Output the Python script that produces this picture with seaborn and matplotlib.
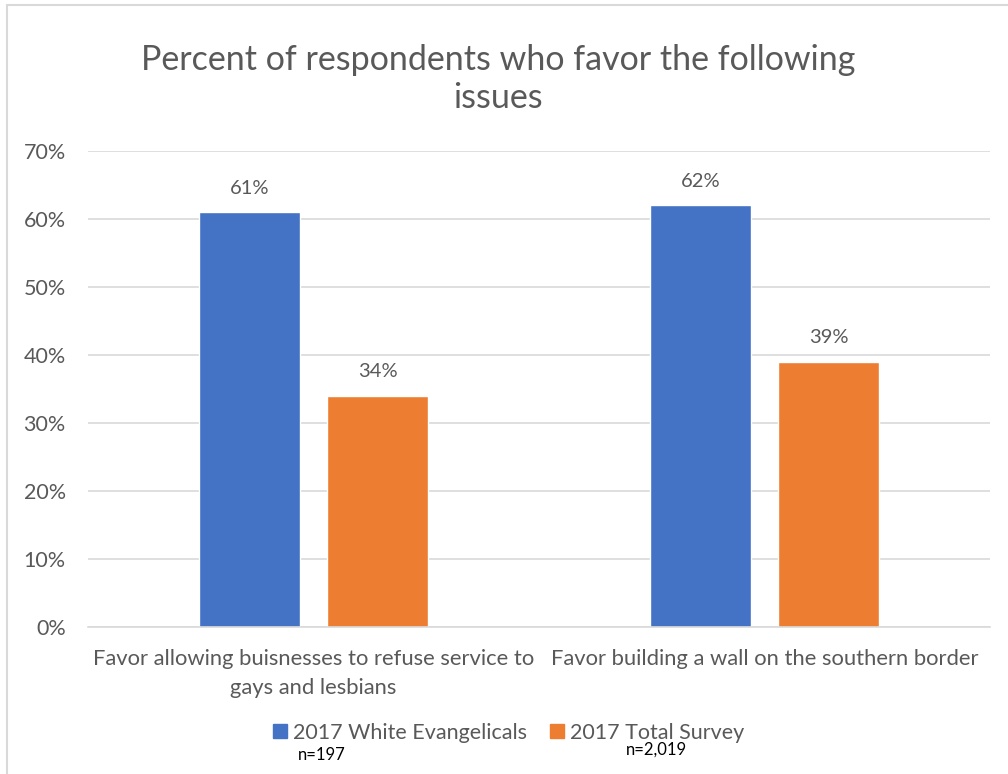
import matplotlib
matplotlib.use("Agg")
import matplotlib.pyplot as plt
from matplotlib.lines import Line2D
import seaborn as sns
import pandas as pd

# Survey data
categories = [
    "Favor allowing buisnesses to refuse service to\ngays and lesbians",
    "Favor building a wall on the southern border",
]
series_names = ["2017 White Evangelicals", "2017 Total Survey"]
white_evangelicals = [61, 62]
total_survey = [34, 39]
sample_sizes = ["n=197", "n=2,019"]
y_ticks = [0, 10, 20, 30, 40, 50, 60, 70]
colors = ["#4472C4", "#ED7D31"]

df = pd.DataFrame({
    "issue": categories * 2,
    "group": [series_names[0]] * 2 + [series_names[1]] * 2,
    "pct": white_evangelicals + total_survey,
})

sns.set_theme(style="white")
plt.rcParams["font.family"] = ["Lato", "DejaVu Sans"]
text_color = "#595959"
grid_color = "#D9D9D9"

fig = plt.figure(figsize=(10.08, 7.74), dpi=100)
ax = fig.add_axes([0.0873, 0.19, 0.8947, 0.615])

sns.barplot(data=df, x="issue", y="pct", hue="group", order=categories,
            hue_order=series_names, palette=colors, width=0.568, gap=0.21,
            saturation=1, ax=ax, legend=False)

ax.set_ylim(0, 70)
ax.set_yticks(y_ticks)
ax.set_yticklabels([f"{t}%" for t in y_ticks], color=text_color, fontsize=15.5)
ax.tick_params(axis="y", length=0, pad=16)
ax.tick_params(axis="x", length=0, pad=16, labelsize=15.8, labelcolor=text_color)
ax.set_xlabel("")
ax.set_ylabel("")
for lbl in ax.get_xticklabels():
    lbl.set_horizontalalignment("center")
    lbl.set_multialignment("center")
    lbl.set_linespacing(1.55)

ax.yaxis.grid(True, color=grid_color, linewidth=1.2)
ax.set_axisbelow(True)
for side in ["top", "right", "left"]:
    ax.spines[side].set_visible(False)
ax.spines["bottom"].set_color(grid_color)
ax.spines["bottom"].set_linewidth(1.2)

for container in ax.containers:
    ax.bar_label(container, labels=[f"{v:.0f}%" for v in container.datavalues],
                 padding=11, fontsize=14.5, color=text_color)

fig.text(0.494, 0.898, "Percent of respondents who favor the following\nissues",
         ha="center", va="center", fontsize=24.5, color=text_color, linespacing=1.25)

# Legend below the plot
handles = [Line2D([0], [0], marker="s", linestyle="none", markersize=10,
                  markerfacecolor=c, markeredgecolor=c) for c in colors]
fig.legend(handles, series_names, loc="center", bbox_to_anchor=(0.504, 0.053),
           ncol=2, frameon=False, fontsize=15.5, labelcolor=text_color,
           handletextpad=0.2, columnspacing=1.0, handlelength=0.8)
fig.text(0.319, 0.025, sample_sizes[0], ha="center", va="center", fontsize=12, color="black")
fig.text(0.651, 0.031, sample_sizes[1], ha="center", va="center", fontsize=12, color="black")

# Chart frame edges (left and top)
fig.add_artist(Line2D([0.0069, 0.0069], [0.0, 0.9929], transform=fig.transFigure,
                      color=grid_color, linewidth=1.5))
fig.add_artist(Line2D([0.0069, 1.0], [0.9929, 0.9929], transform=fig.transFigure,
                      color=grid_color, linewidth=1.5))

fig.savefig("out.png", dpi=100, facecolor="white")
